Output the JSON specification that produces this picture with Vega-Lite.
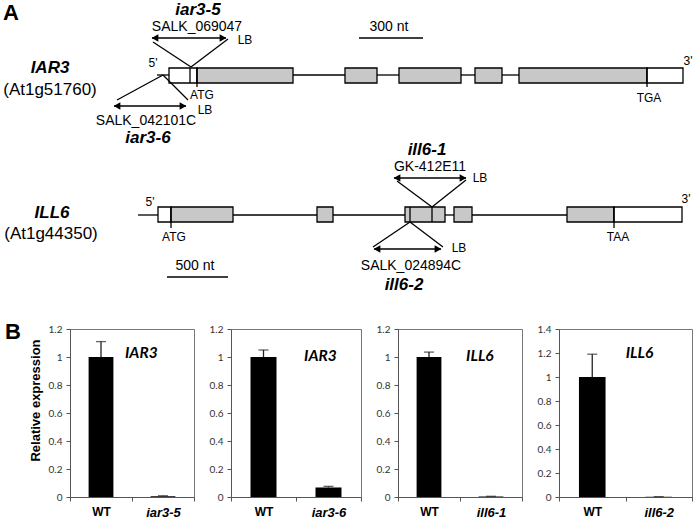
{
  "$schema": "https://vega.github.io/schema/vega-lite/v6.json",
  "padding": {"left": 3, "top": 0, "right": 0, "bottom": 0},
  "background": "white",
  "bounds": "flush",
  "spacing": 29,
  "config": {
    "view": {"stroke": null},
    "font": "Liberation Sans",
    "axis": {"grid": false, "domainColor": "#555", "tickColor": "#555", "labelColor": "#333", "tickSize": 4}
  },
  "datasets": {
    "boxes": [
      {"gene": "IAR3", "x": 169, "x2": 197, "y": 68, "y2": 83, "part": "utr"},
      {"gene": "IAR3", "x": 197, "x2": 293, "y": 68, "y2": 83, "part": "cds"},
      {"gene": "IAR3", "x": 345, "x2": 377, "y": 68, "y2": 83, "part": "cds"},
      {"gene": "IAR3", "x": 399, "x2": 461, "y": 68, "y2": 83, "part": "cds"},
      {"gene": "IAR3", "x": 475, "x2": 502, "y": 68, "y2": 83, "part": "cds"},
      {"gene": "IAR3", "x": 519, "x2": 647, "y": 68, "y2": 83, "part": "cds"},
      {"gene": "IAR3", "x": 647, "x2": 683, "y": 68, "y2": 83, "part": "utr"},
      {"gene": "ILL6", "x": 158, "x2": 171, "y": 207, "y2": 222, "part": "utr"},
      {"gene": "ILL6", "x": 171, "x2": 233, "y": 207, "y2": 222, "part": "cds"},
      {"gene": "ILL6", "x": 317, "x2": 333, "y": 207, "y2": 222, "part": "cds"},
      {"gene": "ILL6", "x": 405, "x2": 445, "y": 207, "y2": 222, "part": "cds"},
      {"gene": "ILL6", "x": 454, "x2": 472, "y": 207, "y2": 222, "part": "cds"},
      {"gene": "ILL6", "x": 567, "x2": 614, "y": 207, "y2": 222, "part": "cds"},
      {"gene": "ILL6", "x": 614, "x2": 682, "y": 207, "y2": 222, "part": "utr"}
    ],
    "segments": [
      {"x": 157, "y": 75, "x2": 169, "y2": 75},
      {"x": 293, "y": 75, "x2": 345, "y2": 75},
      {"x": 377, "y": 75, "x2": 399, "y2": 75},
      {"x": 461, "y": 75, "x2": 475, "y2": 75},
      {"x": 502, "y": 75, "x2": 519, "y2": 75},
      {"x": 197, "y": 68, "x2": 197, "y2": 87},
      {"x": 647, "y": 68, "x2": 647, "y2": 87},
      {"x": 190, "y": 68, "x2": 190, "y2": 83},
      {"x": 153, "y": 42, "x2": 191, "y2": 67},
      {"x": 228, "y": 39, "x2": 191, "y2": 67},
      {"x": 117, "y": 100, "x2": 163, "y2": 75},
      {"x": 163, "y": 75, "x2": 188, "y2": 100},
      {"x": 152, "y": 38, "x2": 226, "y2": 38},
      {"x": 114, "y": 106, "x2": 186, "y2": 106},
      {"x": 359, "y": 38, "x2": 423, "y2": 38},
      {"x": 167, "y": 277, "x2": 228, "y2": 277},
      {"x": 138, "y": 215, "x2": 158, "y2": 215},
      {"x": 233, "y": 215, "x2": 317, "y2": 215},
      {"x": 333, "y": 215, "x2": 405, "y2": 215},
      {"x": 445, "y": 215, "x2": 454, "y2": 215},
      {"x": 472, "y": 215, "x2": 567, "y2": 215},
      {"x": 171, "y": 207, "x2": 171, "y2": 228},
      {"x": 614, "y": 207, "x2": 614, "y2": 228},
      {"x": 432, "y": 207, "x2": 432, "y2": 222},
      {"x": 410, "y": 207, "x2": 410, "y2": 222},
      {"x": 397, "y": 181, "x2": 432, "y2": 207},
      {"x": 466, "y": 180, "x2": 432, "y2": 207},
      {"x": 410, "y": 222, "x2": 373, "y2": 247},
      {"x": 410, "y": 222, "x2": 443, "y2": 247},
      {"x": 394, "y": 178, "x2": 466, "y2": 178},
      {"x": 374, "y": 249, "x2": 441, "y2": 249}
    ],
    "arrowheads": [
      {"x": 155, "y": 38, "dir": "left"},
      {"x": 223, "y": 38, "dir": "right"},
      {"x": 117, "y": 106, "dir": "left"},
      {"x": 183, "y": 106, "dir": "right"},
      {"x": 397, "y": 178, "dir": "left"},
      {"x": 463, "y": 178, "dir": "right"},
      {"x": 377, "y": 249, "dir": "left"},
      {"x": 438, "y": 249, "dir": "right"}
    ],
    "labels": [
      {"x": 3, "y": 13, "text": "A", "kind": "panel"},
      {"x": 5, "y": 332, "text": "B", "kind": "panel"},
      {"x": 198, "y": 10, "text": "iar3-5", "kind": "gene"},
      {"x": 148, "y": 138, "text": "iar3-6", "kind": "gene"},
      {"x": 427, "y": 150, "text": "ill6-1", "kind": "gene"},
      {"x": 404, "y": 285, "text": "ill6-2", "kind": "gene"},
      {"x": 50, "y": 68, "text": "IAR3", "kind": "gene"},
      {"x": 52, "y": 213, "text": "ILL6", "kind": "gene"},
      {"x": 50, "y": 90, "text": "(At1g51760)", "kind": "locus"},
      {"x": 51, "y": 234, "text": "(At1g44350)", "kind": "locus"},
      {"x": 197, "y": 27, "text": "SALK_069047", "kind": "line"},
      {"x": 146, "y": 121, "text": "SALK_042101C", "kind": "line"},
      {"x": 389, "y": 27, "text": "300 nt", "kind": "line"},
      {"x": 430, "y": 167, "text": "GK-412E11", "kind": "line"},
      {"x": 411, "y": 266, "text": "SALK_024894C", "kind": "line"},
      {"x": 195, "y": 266, "text": "500 nt", "kind": "line"},
      {"x": 245, "y": 40, "text": "LB", "kind": "small"},
      {"x": 205, "y": 110, "text": "LB", "kind": "small"},
      {"x": 480, "y": 178, "text": "LB", "kind": "small"},
      {"x": 459, "y": 248, "text": "LB", "kind": "small"},
      {"x": 202, "y": 95, "text": "ATG", "kind": "small"},
      {"x": 174, "y": 237, "text": "ATG", "kind": "small"},
      {"x": 649, "y": 98, "text": "TGA", "kind": "small"},
      {"x": 618, "y": 237, "text": "TAA", "kind": "small"},
      {"x": 153, "y": 63, "text": "5'", "kind": "small"},
      {"x": 150, "y": 202, "text": "5'", "kind": "small"},
      {"x": 688, "y": 61, "text": "3'", "kind": "small"},
      {"x": 686, "y": 199, "text": "3'", "kind": "small"}
    ],
    "expr": [
      {"panel": 1, "gene": "IAR3", "genotype": "WT", "value": 1.0, "upper": 1.11},
      {"panel": 1, "gene": "IAR3", "genotype": "iar3-5", "value": 0.006, "upper": 0.009},
      {"panel": 2, "gene": "IAR3", "genotype": "WT", "value": 1.0, "upper": 1.05},
      {"panel": 2, "gene": "IAR3", "genotype": "iar3-6", "value": 0.068, "upper": 0.076},
      {"panel": 3, "gene": "ILL6", "genotype": "WT", "value": 1.0, "upper": 1.035},
      {"panel": 3, "gene": "ILL6", "genotype": "ill6-1", "value": 0.004, "upper": 0.005},
      {"panel": 4, "gene": "ILL6", "genotype": "WT", "value": 1.0, "upper": 1.19},
      {"panel": 4, "gene": "ILL6", "genotype": "ill6-2", "value": 0.002, "upper": 0.003}
    ]
  },
  "vconcat": [
    {
      "width": 623,
      "height": 300,
      "layer": [
        {
          "data": {"name": "boxes"},
          "mark": {"type": "rect", "stroke": "black", "strokeWidth": 1.3},
          "encoding": {
            "x": {"field": "x", "type": "quantitative", "scale": {"domain": [70, 693], "nice": false, "zero": false}, "axis": null},
            "x2": {"field": "x2"},
            "y": {"field": "y", "type": "quantitative", "scale": {"domain": [0, 300], "reverse": true, "nice": false, "zero": false}, "axis": null},
            "y2": {"field": "y2"},
            "color": {"field": "part", "type": "nominal", "scale": {"domain": ["utr", "cds"], "range": ["white", "#c8c8c8"]}, "legend": null}
          }
        },
        {
          "data": {"name": "segments"},
          "mark": {"type": "rule", "color": "black", "strokeWidth": 1.3},
          "encoding": {
            "x": {"field": "x", "type": "quantitative"},
            "x2": {"field": "x2"},
            "y": {"field": "y", "type": "quantitative"},
            "y2": {"field": "y2"}
          }
        },
        {
          "data": {"name": "arrowheads"},
          "mark": {"type": "point", "filled": true, "color": "black", "opacity": 1, "size": 60},
          "encoding": {
            "x": {"field": "x", "type": "quantitative"},
            "y": {"field": "y", "type": "quantitative"},
            "shape": {"field": "dir", "type": "nominal", "scale": {"domain": ["left", "right"], "range": ["triangle-left", "triangle-right"]}, "legend": null}
          }
        },
        {
          "data": {"name": "labels"},
          "transform": [{"filter": "datum.kind === 'panel'"}],
          "mark": {"type": "text", "fontSize": 22, "fontWeight": "bold", "align": "left", "baseline": "middle", "color": "black"},
          "encoding": {"x": {"field": "x", "type": "quantitative"}, "y": {"field": "y", "type": "quantitative"}, "text": {"field": "text"}}
        },
        {
          "data": {"name": "labels"},
          "transform": [{"filter": "datum.kind === 'gene'"}],
          "mark": {"type": "text", "fontSize": 17, "fontWeight": "bold", "fontStyle": "italic", "align": "center", "baseline": "middle", "color": "black"},
          "encoding": {"x": {"field": "x", "type": "quantitative"}, "y": {"field": "y", "type": "quantitative"}, "text": {"field": "text"}}
        },
        {
          "data": {"name": "labels"},
          "transform": [{"filter": "datum.kind === 'locus'"}],
          "mark": {"type": "text", "fontSize": 17, "align": "center", "baseline": "middle", "color": "black"},
          "encoding": {"x": {"field": "x", "type": "quantitative"}, "y": {"field": "y", "type": "quantitative"}, "text": {"field": "text"}}
        },
        {
          "data": {"name": "labels"},
          "transform": [{"filter": "datum.kind === 'line'"}],
          "mark": {"type": "text", "fontSize": 14, "align": "center", "baseline": "middle", "color": "black"},
          "encoding": {"x": {"field": "x", "type": "quantitative"}, "y": {"field": "y", "type": "quantitative"}, "text": {"field": "text"}}
        },
        {
          "data": {"name": "labels"},
          "transform": [{"filter": "datum.kind === 'small'"}],
          "mark": {"type": "text", "fontSize": 12, "align": "center", "baseline": "middle", "color": "black"},
          "encoding": {"x": {"field": "x", "type": "quantitative"}, "y": {"field": "y", "type": "quantitative"}, "text": {"field": "text"}}
        }
      ]
    },
    {
      "hconcat": [
        {
          "width": 124,
          "height": 168,
          "view": {"stroke": "#777"},
          "data": {"name": "expr"},
          "transform": [{"filter": "datum.panel === 1"}],
          "encoding": {
            "x": {"field": "genotype", "type": "nominal", "sort": null, "title": null,
              "scale": {"paddingInner": 0, "paddingOuter": 0},
              "axis": {"tickBand": "extent", "labelAngle": 0, "labelFont": "Liberation Sans", "labelFontWeight": "bold", "labelColor": "black",
                "labelFontSize": {"condition": {"test": "datum.value === 'WT'", "value": 12}, "value": 13},
                "labelFontStyle": {"condition": {"test": "datum.value === 'WT'", "value": "normal"}, "value": "italic"},
                "labelPadding": 5}},
            "y": {"field": "value", "type": "quantitative", "scale": {"domain": [0, 1.2], "nice": false},
              "axis": {"values": [0, 0.2, 0.4, 0.6, 0.8, 1, 1.2], "format": "~g", "labelFont": "Lato", "labelFontSize": 10, "labelPadding": 4,
                "title": "Relative expression", "titleFont": "Liberation Sans", "titleFontSize": 13, "titleFontWeight": "bold", "titleColor": "black", "titlePadding": 6, "titleY": 71}}
          },
          "layer": [
            {"mark": {"type": "bar", "color": "black", "width": {"band": 0.4}}},
            {"mark": {"type": "rule", "color": "#222", "strokeWidth": 1.3}, "encoding": {"y2": {"field": "upper"}}},
            {"mark": {"type": "tick", "color": "#222", "thickness": 1.3, "size": 10}, "encoding": {"y": {"field": "upper", "type": "quantitative"}}},
            {"transform": [{"filter": "datum.genotype !== 'WT'"}],
             "mark": {"type": "text", "font": "Lato", "fontWeight": "bold", "fontStyle": "italic", "fontSize": 15.5, "align": "center", "baseline": "middle", "color": "black"},
             "encoding": {"x": {"field": "genotype", "type": "nominal", "sort": null, "bandPosition": 0.15}, "y": {"datum": 1.03}, "text": {"field": "gene"}}}
          ]
        },
        {
          "width": 130,
          "height": 168,
          "view": {"stroke": "#777"},
          "data": {"name": "expr"},
          "transform": [{"filter": "datum.panel === 2"}],
          "encoding": {
            "x": {"field": "genotype", "type": "nominal", "sort": null, "title": null,
              "scale": {"paddingInner": 0, "paddingOuter": 0},
              "axis": {"tickBand": "extent", "labelAngle": 0, "labelFont": "Liberation Sans", "labelFontWeight": "bold", "labelColor": "black",
                "labelFontSize": {"condition": {"test": "datum.value === 'WT'", "value": 12}, "value": 13},
                "labelFontStyle": {"condition": {"test": "datum.value === 'WT'", "value": "normal"}, "value": "italic"},
                "labelPadding": 5}},
            "y": {"field": "value", "type": "quantitative", "scale": {"domain": [0, 1.2], "nice": false},
              "axis": {"values": [0, 0.2, 0.4, 0.6, 0.8, 1, 1.2], "format": "~g", "labelFont": "Lato", "labelFontSize": 10, "labelPadding": 4, "title": null}}
          },
          "layer": [
            {"mark": {"type": "bar", "color": "black", "width": {"band": 0.4}}},
            {"mark": {"type": "rule", "color": "#222", "strokeWidth": 1.3}, "encoding": {"y2": {"field": "upper"}}},
            {"mark": {"type": "tick", "color": "#222", "thickness": 1.3, "size": 10}, "encoding": {"y": {"field": "upper", "type": "quantitative"}}},
            {"transform": [{"filter": "datum.genotype !== 'WT'"}],
             "mark": {"type": "text", "font": "Lato", "fontWeight": "bold", "fontStyle": "italic", "fontSize": 15.5, "align": "center", "baseline": "middle", "color": "black"},
             "encoding": {"x": {"field": "genotype", "type": "nominal", "sort": null, "bandPosition": 0.375}, "y": {"datum": 1.01}, "text": {"field": "gene"}}}
          ]
        },
        {
          "width": 124,
          "height": 168,
          "view": {"stroke": "#777"},
          "data": {"name": "expr"},
          "transform": [{"filter": "datum.panel === 3"}],
          "encoding": {
            "x": {"field": "genotype", "type": "nominal", "sort": null, "title": null,
              "scale": {"paddingInner": 0, "paddingOuter": 0},
              "axis": {"tickBand": "extent", "labelAngle": 0, "labelFont": "Liberation Sans", "labelFontWeight": "bold", "labelColor": "black",
                "labelFontSize": {"condition": {"test": "datum.value === 'WT'", "value": 12}, "value": 13},
                "labelFontStyle": {"condition": {"test": "datum.value === 'WT'", "value": "normal"}, "value": "italic"},
                "labelPadding": 5}},
            "y": {"field": "value", "type": "quantitative", "scale": {"domain": [0, 1.2], "nice": false},
              "axis": {"values": [0, 0.2, 0.4, 0.6, 0.8, 1, 1.2], "format": "~g", "labelFont": "Lato", "labelFontSize": 10, "labelPadding": 4, "title": null}}
          },
          "layer": [
            {"mark": {"type": "bar", "color": "black", "width": {"band": 0.4}}},
            {"mark": {"type": "rule", "color": "#222", "strokeWidth": 1.3}, "encoding": {"y2": {"field": "upper"}}},
            {"mark": {"type": "tick", "color": "#222", "thickness": 1.3, "size": 10}, "encoding": {"y": {"field": "upper", "type": "quantitative"}}},
            {"transform": [{"filter": "datum.genotype !== 'WT'"}],
             "mark": {"type": "text", "font": "Lato", "fontWeight": "bold", "fontStyle": "italic", "fontSize": 15.5, "align": "center", "baseline": "middle", "color": "black"},
             "encoding": {"x": {"field": "genotype", "type": "nominal", "sort": null, "bandPosition": 0.32}, "y": {"datum": 1.01}, "text": {"field": "gene"}}}
          ]
        },
        {
          "width": 133,
          "height": 168,
          "view": {"stroke": "#777"},
          "data": {"name": "expr"},
          "transform": [{"filter": "datum.panel === 4"}],
          "encoding": {
            "x": {"field": "genotype", "type": "nominal", "sort": null, "title": null,
              "scale": {"paddingInner": 0, "paddingOuter": 0},
              "axis": {"tickBand": "extent", "labelAngle": 0, "labelFont": "Liberation Sans", "labelFontWeight": "bold", "labelColor": "black",
                "labelFontSize": {"condition": {"test": "datum.value === 'WT'", "value": 12}, "value": 13},
                "labelFontStyle": {"condition": {"test": "datum.value === 'WT'", "value": "normal"}, "value": "italic"},
                "labelPadding": 5}},
            "y": {"field": "value", "type": "quantitative", "scale": {"domain": [0, 1.4], "nice": false},
              "axis": {"values": [0, 0.2, 0.4, 0.6, 0.8, 1, 1.2, 1.4], "format": "~g", "labelFont": "Lato", "labelFontSize": 10, "labelPadding": 4, "title": null}}
          },
          "layer": [
            {"mark": {"type": "bar", "color": "black", "width": {"band": 0.4}}},
            {"mark": {"type": "rule", "color": "#222", "strokeWidth": 1.3}, "encoding": {"y2": {"field": "upper"}}},
            {"mark": {"type": "tick", "color": "#222", "thickness": 1.3, "size": 10}, "encoding": {"y": {"field": "upper", "type": "quantitative"}}},
            {"transform": [{"filter": "datum.genotype !== 'WT'"}],
             "mark": {"type": "text", "font": "Lato", "fontWeight": "bold", "fontStyle": "italic", "fontSize": 15.5, "align": "center", "baseline": "middle", "color": "black"},
             "encoding": {"x": {"field": "genotype", "type": "nominal", "sort": null, "bandPosition": 0.21}, "y": {"datum": 1.2}, "text": {"field": "gene"}}}
          ]
        }
      ],
      "spacing": 37,
      "bounds": "flush"
    }
  ]
}
